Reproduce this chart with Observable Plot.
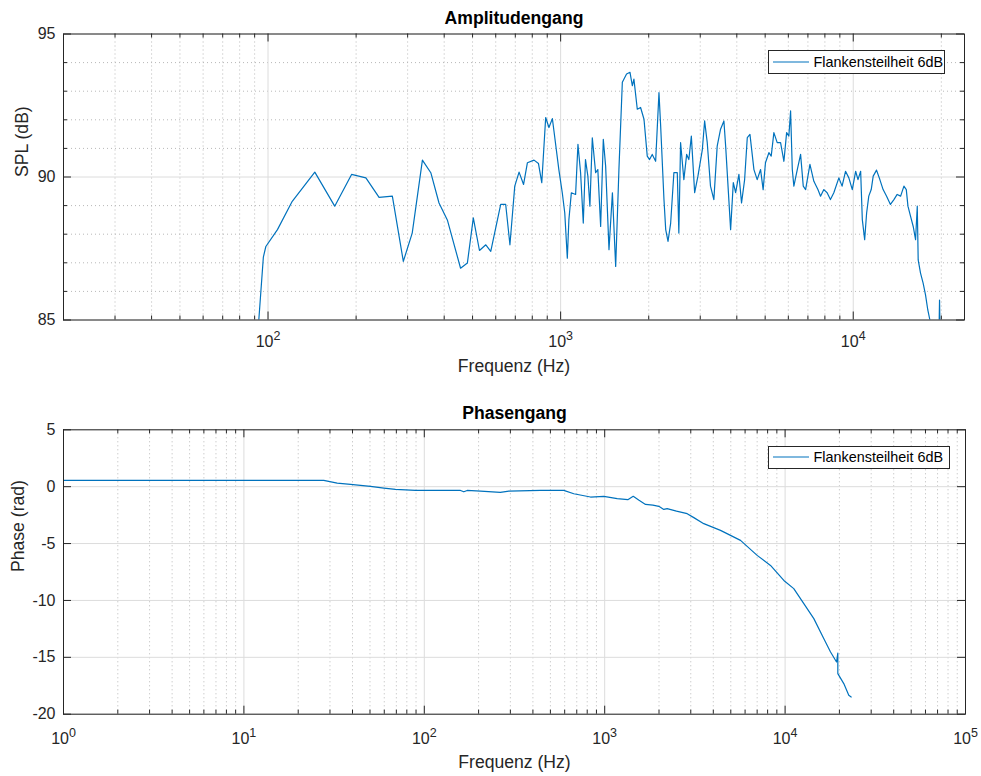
<!DOCTYPE html>
<html><head><meta charset="utf-8">
<script src="https://cdn.jsdelivr.net/npm/d3@7"></script>
<script src="https://cdn.jsdelivr.net/npm/@observablehq/plot@0.6"></script>
<style>
body{margin:0;background:#fff;font-family:"Liberation Sans",Arial,sans-serif;}
#wrap{position:relative;width:981px;height:776px;overflow:hidden;}
#wrap svg{display:block;}
.legend{position:absolute;background:#fff;border:1px solid #262626;box-sizing:border-box;display:flex;align-items:center;font-size:14.4px;color:#000;white-space:nowrap;}
.legend svg{margin-left:4px;margin-right:5px;}
</style></head><body><div id="wrap"></div>
<script>
// ---- data ----
const seriesName = "Flankensteilheit 6dB";
const ampTitle = "Amplitudengang";
const phaseTitle = "Phasengang";
const xLabel = "Frequenz (Hz)";
const ampYLabel = "SPL (dB)";
const phaseYLabel = "Phase (rad)";

const ampFreq = [90,93,96.4,98.3,107.7,121,144.5,169,193,216,239.6,266,290,311,337,360,384,410,455,480,503,528,555,577,624,649,671,697,721,747,770,811,840,862,889,912,937,949,986,1013,1033,1054,1067,1088,1125,1146,1170,1195,1216,1239,1259,1283,1317,1340,1370,1399,1425,1463,1503,1542,1582,1625,1680,1726,1758,1780,1828,1876,1927,1977,2013,2056,2112,2168,2197,2255,2286,2328,2377,2438,2504,2535,2570,2637,2696,2743,2797,2871,2946,3050,3105,3170,3252,3339,3428,3520,3614,3664,3810,3891,3963,4067,4152,4254,4344,4436,4577,4696,4823,4921,5012,5149,5244,5355,5497,5645,5795,5920,6025,6108,6190,6267,6438,6608,6748,6874,7112,7335,7573,7731,7934,8142,8356,8583,8930,9160,9410,9660,9925,10190,10380,10600,10740,10940,11110,11300,11520,11700,12010,12330,12650,13000,13400,13770,14130,14520,14900,15180,15380,15700,16030,16330,16550,16670,16980,17330,17660,17980,18280,18700,19500,19720,19900];
const ampSpl = [82.5,85.0,87.2,87.57,88.16,89.15,90.17,88.98,90.09,89.97,89.29,89.33,87.05,88.04,90.59,90.15,89.09,88.5,86.81,86.99,88.57,87.43,87.63,87.4,89.04,89.04,87.63,89.68,90.17,89.74,90.5,90.59,90.47,89.8,92.08,91.73,92.04,91.6,90.26,89.45,88.74,87.16,88.5,89.45,89.39,91.14,90.15,88.39,90.61,90.03,88.98,91.37,90.15,90.26,88.27,91.32,90.38,87.46,89.45,86.87,90.26,93.31,93.6,93.66,93.19,93.42,92.37,92.43,92.02,90.73,90.61,90.79,90.55,92.95,91.78,89.21,88.16,87.75,88.39,90.15,90.15,88.04,91.2,89.91,90.79,90.61,91.43,89.45,90.03,90.96,91.96,91.2,89.68,89.21,91.08,91.67,91.96,91.08,88.16,89.8,89.45,90.09,89.09,89.91,91.38,91.49,90.26,89.91,90.26,89.56,90.5,90.85,90.73,91.55,91.2,91.2,90.55,91.55,91.43,92.31,90.26,89.68,90.26,90.79,89.68,89.56,90.44,89.85,89.56,89.33,89.56,89.45,89.21,89.45,89.97,89.68,90.2,89.97,89.56,90.2,89.91,90.2,88.51,87.81,88.74,89.33,89.56,90.03,90.24,89.91,89.56,89.33,89.04,89.21,89.39,89.33,89.68,89.56,88.98,88.62,88.27,87.81,88.98,87.1,86.64,86.29,85.88,85.35,85.0,83.5,82.8,85.7,83.0];

const phaseFreq = [1,27.7,32.9,39,50.3,59.7,69.2,89.4,158.8,165.6,172.9,205,264,294,441,593,674,834,989,1173,1343,1439,1550,1684,1850,1995,2127,2220,2500,2866,3119,3542,4385,5660,7000,8300,9840,11170,12700,14430,16400,17860,19280,19600,19600,21150,22540,23240];
const phaseRad = [0.55,0.55,0.32,0.2,0.03,-0.12,-0.24,-0.33,-0.33,-0.45,-0.33,-0.39,-0.5,-0.39,-0.33,-0.33,-0.62,-0.91,-0.85,-1.05,-1.14,-0.85,-1.2,-1.56,-1.62,-1.73,-2.0,-1.93,-2.15,-2.37,-2.72,-3.25,-3.84,-4.72,-6.04,-6.92,-8.24,-8.96,-10.28,-11.6,-13.36,-14.53,-15.41,-14.62,-16.43,-17.31,-18.34,-18.49];

const ampXDomain = [20, 24000];
const ampYDomain = [85, 95];
const ampMajorX = [100, 1000, 10000];
const ampMinorX = [30,40,50,60,70,80,90,200,300,400,500,600,700,800,900,2000,3000,4000,5000,6000,7000,8000,9000,20000];
const ampMajorY = [85, 90, 95];
const ampMinorY = [86,87,88,89,91,92,93,94];

const phaseXDomain = [1, 100000];
const phaseYDomain = [-20, 5];
const phaseMajorX = [1, 10, 100, 1000, 10000, 100000];
const phaseMinorX = [2,3,4,5,6,7,8,9,20,30,40,50,60,70,80,90,200,300,400,500,600,700,800,900,2000,3000,4000,5000,6000,7000,8000,9000,20000,30000,40000,50000,60000,70000,80000,90000];
const phaseMajorY = [-20, -15, -10, -5, 0, 5];

// ---- style ----
const lineColor = "#0072BD";
const axisColor = "#262626";
const gridColor = "#dcdcdc";
const minorGridColor = "#b8b8b8";

function panel({title, yLabel, xDomain, yDomain, majorX, minorX, majorY, minorY, data, mt, mb, ml, mr, H, titleDy, xLabelDy, yLabelDx, tickPad, clip}) {
  const W = 981;
  const fh = H - mt - mb, fw = W - ml - mr;
  const tM = 8, tm = 4;
  const marks = [
    Plot.ruleX(minorX, {stroke: minorGridColor, strokeDasharray: "1,3"}),
    ...(minorY.length ? [Plot.ruleY(minorY, {stroke: minorGridColor, strokeDasharray: "1,3"})] : []),
    Plot.ruleX(majorX, {stroke: gridColor}),
    Plot.ruleY(majorY, {stroke: gridColor}),
    Plot.line(data, {x: "f", y: "v", stroke: lineColor, strokeWidth: 1.2, clip}),
    Plot.frame({stroke: axisColor}),
    Plot.tickX(majorX, {insetTop: fh - tM, stroke: axisColor}),
    Plot.tickX(majorX, {insetBottom: fh - tM, stroke: axisColor}),
    Plot.tickX(minorX, {insetTop: fh - tm, stroke: axisColor}),
    Plot.tickX(minorX, {insetBottom: fh - tm, stroke: axisColor}),
    Plot.tickY(majorY, {insetRight: fw - tM, stroke: axisColor}),
    Plot.tickY(majorY, {insetLeft: fw - tM, stroke: axisColor}),
    ...(minorY.length ? [
      Plot.tickY(minorY, {insetRight: fw - tm, stroke: axisColor}),
      Plot.tickY(minorY, {insetLeft: fw - tm, stroke: axisColor})
    ] : []),
    Plot.axisX({ticks: majorX, tickSize: 0, tickPadding: tickPad, tickFormat: d => "10^" + Math.round(Math.log10(d)), label: null, fontSize: 16}),
    Plot.axisY({ticks: majorY, tickSize: 0, tickPadding: 8, tickFormat: d => String(d), label: null, fontSize: 16}),
    Plot.text([title], {frameAnchor: "top", lineAnchor: "middle", dy: titleDy, fontWeight: "bold", fontSize: 17.6, fill: "#000"}),
    Plot.text([xLabel], {frameAnchor: "bottom", lineAnchor: "middle", dy: xLabelDy, fontSize: 17.6, fill: axisColor}),
    Plot.text([yLabel], {frameAnchor: "left", lineAnchor: "middle", rotate: -90, dx: yLabelDx, fontSize: 17.6, fill: axisColor})
  ];
  const svg = Plot.plot({
    width: W, height: H,
    marginTop: mt, marginBottom: mb, marginLeft: ml, marginRight: mr,
    x: {type: "log", domain: xDomain},
    y: {domain: yDomain},
    style: {fontFamily: "'Liberation Sans', Arial, sans-serif", fontSize: "16px", color: axisColor, background: "#fff"},
    marks
  });
  d3.select(svg).selectAll('g[aria-label="x-axis tick label"] text').each(function() {
    const t = this.textContent;
    const m = /^10\^(-?\d+)$/.exec(t);
    if (!m) return;
    const sel = d3.select(this);
    sel.text(null);
    sel.append("tspan").text("10");
    sel.append("tspan").attr("dy", "-7").attr("font-size", "12.5px").text(m[1]);
  });
  return svg;
}

const wrap = document.getElementById("wrap");
const ampData = ampFreq.map((f, i) => ({f, v: ampSpl[i]}));
const phaseData = phaseFreq.map((f, i) => ({f, v: phaseRad[i]}));

wrap.appendChild(panel({
  title: ampTitle, yLabel: ampYLabel, xDomain: ampXDomain, yDomain: ampYDomain,
  majorX: ampMajorX, minorX: ampMinorX, majorY: ampMajorY, minorY: ampMinorY,
  data: ampData, mt: 33.5, mb: 68.5, ml: 63, mr: 17, H: 388,
  titleDy: -15.5, xLabelDy: 46.5, yLabelDx: -41, tickPad: 16, clip: true
}));
wrap.appendChild(panel({
  title: phaseTitle, yLabel: phaseYLabel, xDomain: phaseXDomain, yDomain: phaseYDomain,
  majorX: phaseMajorX, minorX: phaseMinorX, majorY: phaseMajorY, minorY: [],
  data: phaseData, mt: 41.3, mb: 62.3, ml: 63, mr: 16, H: 388,
  titleDy: -16.3, xLabelDy: 48.3, yLabelDx: -45, tickPad: 18, clip: true
}));

function legend(left, top, width, height) {
  const div = document.createElement("div");
  div.className = "legend";
  Object.assign(div.style, {left: left + "px", top: top + "px", width: width + "px", height: height + "px"});
  const s = d3.create("svg").attr("width", 36).attr("height", 4);
  s.append("line").attr("x1", 0).attr("x2", 36).attr("y1", 2).attr("y2", 2).attr("stroke", lineColor).attr("stroke-width", 1.2);
  div.appendChild(s.node());
  const span = document.createElement("span");
  span.textContent = seriesName;
  div.appendChild(span);
  wrap.appendChild(div);
}
legend(767.5, 50, 177, 23.5);
legend(767.5, 445.5, 182, 23.5);
</script></body></html>
